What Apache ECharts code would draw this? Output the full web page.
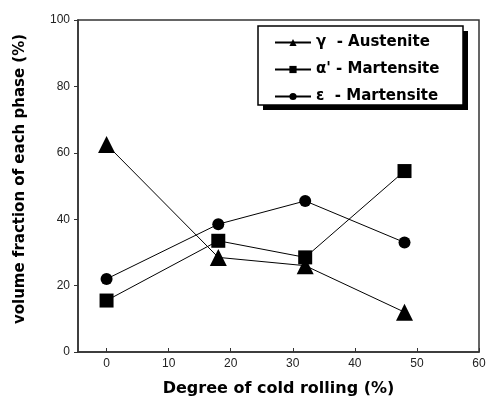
<!DOCTYPE html>
<html>
<head>
<meta charset="utf-8">
<script src="https://cdn.jsdelivr.net/npm/echarts@6/dist/echarts.min.js"></script>
<style>
  html, body { margin: 0; padding: 0; background: #fff; }
  #chart { width: 491px; height: 401px; }
</style>
</head>
<body>
<div id="chart"></div>
<script>
  // data
  const rolling = [0, 18, 32, 48];
  const austenite = [62.5, 28.5, 26, 12];
  const alphaMartensite = [15.5, 33.5, 28.5, 54.5];
  const epsMartensite = [22, 38.5, 45.5, 33];
  const xTicks = [0, 10, 20, 30, 40, 50, 60];
  const seriesNames = ['γ  - Austenite', "α' - Martensite", 'ε  - Martensite'];

  function pairs (ys) {
    return rolling.map(function (x, i) { return [x, ys[i]]; });
  }

  let myChart = echarts.init(document.getElementById('chart'));
  const font = '"Liberation Sans", Arial, sans-serif';
  const boldFont = '"DejaVu Sans", sans-serif';
  const lineStyle = { color: '#000', width: 1 };

  myChart.setOption({
    animation: false,
    color: ['#000'],
    textStyle: { fontFamily: font },
    grid: {
      left: 78,
      right: 12,
      top: 20,
      bottom: 49,
      outerBoundsMode: 'none',
      show: true,
      borderColor: '#333',
      borderWidth: 1.5
    },
    // legend frame with its hard drop shadow
    graphic: [
      {
        type: 'rect',
        z: 1,
        shape: { x: 263, y: 31, width: 205, height: 79 },
        style: { fill: '#000' }
      },
      {
        type: 'rect',
        z: 2,
        shape: { x: 258, y: 26, width: 205, height: 79 },
        style: { fill: '#fff', stroke: '#000', lineWidth: 1.5 }
      }
    ],
    legend: {
      left: 274,
      top: 35,
      orient: 'vertical',
      itemWidth: 36,
      itemHeight: 9,
      itemGap: 12,
      padding: 0,
      textStyle: {
        fontFamily: boldFont,
        fontWeight: 'bold',
        fontSize: 15,
        color: '#000'
      },
      data: seriesNames
    },
    xAxis: {
      type: 'value',
      min: -4.6,
      max: 60,
      name: 'Degree of cold rolling (%)',
      nameLocation: 'middle',
      nameGap: 29,
      nameTextStyle: {
        fontFamily: boldFont,
        fontWeight: 'bold',
        fontSize: 16,
        color: '#000'
      },
      axisLine: { lineStyle: { color: '#333', width: 1.5 } },
      axisTick: { show: true, inside: true, length: 4, customValues: xTicks, lineStyle: { color: '#333' } },
      axisLabel: { customValues: xTicks, color: '#222', fontSize: 12, margin: 6 },
      splitLine: { show: false }
    },
    yAxis: {
      type: 'value',
      min: 0,
      max: 100,
      interval: 20,
      name: 'volume fraction of each phase (%)',
      nameLocation: 'middle',
      nameGap: 50,
      nameTextStyle: {
        fontFamily: boldFont,
        fontWeight: 'bold',
        fontSize: 15,
        color: '#000',
        padding: [0, 0, 0, 14]
      },
      axisLine: { show: true, onZero: false, lineStyle: { color: '#333', width: 1.5 } },
      axisTick: { show: true, length: 4, lineStyle: { color: '#333' } },
      axisLabel: { color: '#222', fontSize: 12, margin: 8 },
      splitLine: { show: false }
    },
    series: [
      {
        name: seriesNames[0],
        type: 'line',
        data: pairs(austenite),
        symbol: 'triangle',
        symbolSize: 17,
        lineStyle: lineStyle,
        itemStyle: { color: '#000' }
      },
      {
        name: seriesNames[1],
        type: 'line',
        data: pairs(alphaMartensite),
        symbol: 'rect',
        symbolSize: 14,
        lineStyle: lineStyle,
        itemStyle: { color: '#000' }
      },
      {
        name: seriesNames[2],
        type: 'line',
        data: pairs(epsMartensite),
        symbol: 'circle',
        symbolSize: 12,
        lineStyle: lineStyle,
        itemStyle: { color: '#000' }
      }
    ]
  });
</script>
</body>
</html>
